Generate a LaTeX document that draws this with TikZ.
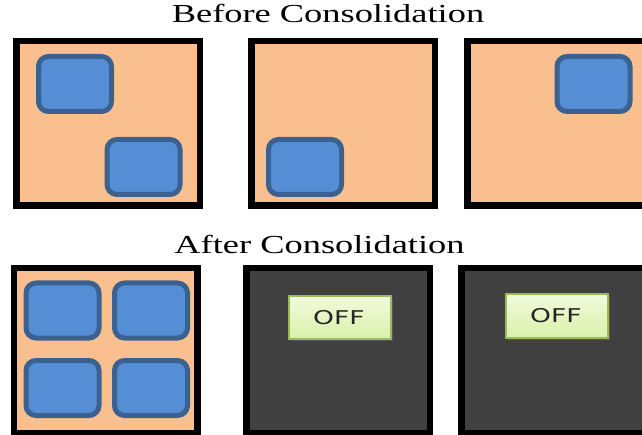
\documentclass[tikz,border=0pt]{standalone}
\usepackage{fontspec}
\setmainfont{Liberation Serif}
\newfontfamily\offfont{DejaVu Sans}
\usetikzlibrary{shadows}
\definecolor{peach}{HTML}{F9BF8F}
\definecolor{vmblue}{HTML}{558ED5}
\definecolor{vmedge}{HTML}{3B6191}
\definecolor{offgray}{HTML}{404040}
\definecolor{offedge}{HTML}{9BBB59}
\definecolor{offtop}{HTML}{F1FADB}
\definecolor{offbot}{HTML}{D9F1AA}
\tikzset{
  server/.style={draw=black, line width=6.5pt, rectangle, minimum width=183.5pt, minimum height=164.5pt, inner sep=0pt, outer sep=0pt},
  onserver/.style={server, fill=peach},
  offserver/.style={server, fill=offgray},
  vm/.style={draw=vmedge, fill=vmblue, line width=5pt, rectangle, rounded corners=10pt, minimum width=73pt, minimum height=55pt, inner sep=0pt, outer sep=0pt},
  offlabel/.style={draw=offedge, line width=2pt, rectangle, top color=offtop, bottom color=offbot, minimum width=102pt, minimum height=43pt, inner sep=0pt, outer sep=0pt, drop shadow={shadow xshift=2pt, shadow yshift=-2pt, opacity=0.35}},
  title/.style={font=\fontsize{26}{30}\selectfont, xscale=1.4, anchor=base, inner sep=0pt},
  offtext/.style={font=\offfont\fontsize{19}{22}\selectfont, xscale=1.4, anchor=base, inner sep=0pt, text=black!85}
}
\begin{document}
\begin{tikzpicture}[x=1pt, y=-1pt]
\clip (0,0) rectangle (642,435);
\fill[white] (0,0) rectangle (642,435);
% titles
\node[title] (before) at (328,23) {Before Consolidation};
\node[title] (after) at (319.5,254) {After Consolidation};
% top row servers
\node[onserver] (s1) at (108,123.5) {};
\node[onserver] (s2) at (343,123.5) {};
\node[onserver] (s3) at (559,123.5) {};
\node[vm] (v1a) at (75,84) {};
\node[vm] (v1b) at (143.5,167) {};
\node[vm] (v2) at (305,167) {};
\node[vm] (v3) at (593.5,84) {};
% bottom row servers
\node[onserver] (s4) at (105.5,350.5) {};
\node[offserver] (s5) at (338,350.5) {};
\node[offserver] (s6) at (553,350.5) {};
\node[vm] (v4a) at (62.5,310.5) {};
\node[vm] (v4b) at (151,310.5) {};
\node[vm] (v4c) at (62.5,388) {};
\node[vm] (v4d) at (151,388) {};
\node[offlabel] (o5) at (340,317.5) {};
\node[offlabel] (o6) at (556.5,316) {};
\node[offtext] (t5) at (339,324.5) {OFF};
\node[offtext] (t6) at (556,323) {OFF};
\end{tikzpicture}
\end{document}
